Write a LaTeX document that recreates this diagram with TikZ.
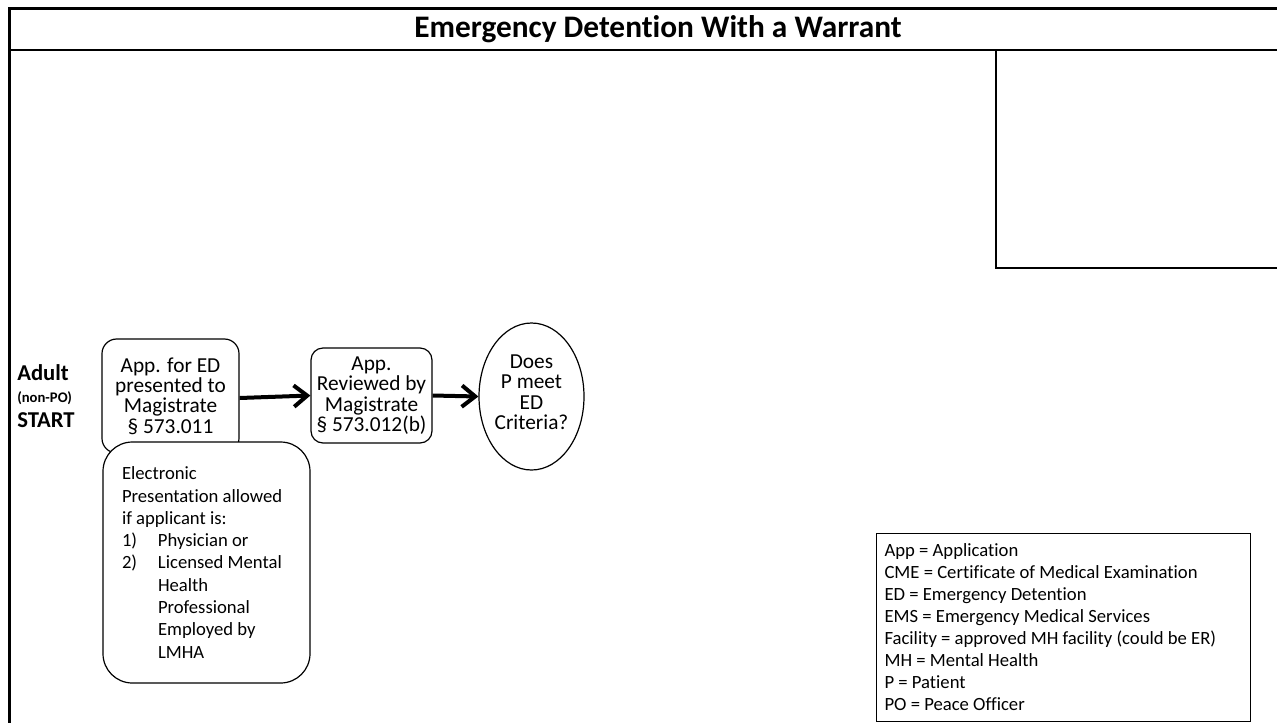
\documentclass[tikz,border=0pt]{standalone}
\usepackage{fontspec}
\setmainfont{Carlito}[Ligatures={NoCommon}]
\usetikzlibrary{arrows.meta,shapes.geometric}
\begin{document}
\begin{tikzpicture}[x=0.75pt,y=-0.75pt,
  box/.style={draw, line width=0.9pt, align=center, inner sep=0pt, fill=white,
    font=\fontsize{16}{15.3}\selectfont},
  startlbl/.style={anchor=base west, inner sep=0pt, font=\bfseries\fontsize{17}{19}\selectfont},
  arr/.style={line width=3pt, -{Straight Barb[length=10pt,width=16pt]}}
]
\useasboundingbox (0,0) rectangle (1277,722);
\fill[white] (0,0) rectangle (1277,722);

% frame
\draw[line width=2.4pt] (9.5,730) -- (9.5,8.5) -- (1290,8.5);
\draw[line width=1.1pt] (9.5,50) -- (1290,50);
\draw[line width=1.1pt] (996,50) -- (996,268) -- (1290,268);

% title
\node[font=\bfseries\fontsize{23.5}{28}\selectfont] (title) at (658,29) {Emergency Detention With a Warrant};

% start label
\node[startlbl] (adult) at (17,380) {Adult};
\node[startlbl, font=\bfseries\fontsize{11}{12}\selectfont] (nonpo) at (17,402.5) {(non-PO)};
\node[startlbl] (start) at (17,427) {START};

% boxes
\node[box, rounded corners=11pt, minimum width=102.75pt, minimum height=85.5pt] (b1) at (170.5,396)
  {App. for ED\\presented to\\Magistrate\\§ 573.011};
\node[box, rounded corners=22pt, minimum width=155.25pt, minimum height=180.75pt,
  text width=126.75pt, inner xsep=14.25pt, align=flush left,
  font=\fontsize{14}{16.7}\selectfont] (b3) at (206.5,562.5)
  {Electronic\\Presentation allowed\\if applicant is:\\
   \makebox[27pt][l]{1)}Physician or\\
   \makebox[27pt][l]{2)}Licensed Mental\\
   \hspace*{27pt}Health\\
   \hspace*{27pt}Professional\\
   \hspace*{27pt}Employed by\\
   \hspace*{27pt}LMHA};
\node[box, rounded corners=9pt, minimum width=90.75pt, minimum height=71.25pt] (b2) at (371.5,395.5)
  {App.\\Reviewed by\\Magistrate\\§ 573.012(b)};
\node[box, ellipse, minimum width=78.75pt, minimum height=110.25pt] (q) at (531.5,396.5)
  {Does\\P meet\\ED\\Criteria?\\[-9pt]\mbox{}};

% arrows
\draw[arr] ([yshift=-1.5pt]b1.east) -- (b2.west);
\draw[arr] (b2.east) -- (q.west);

% legend
\node[draw, line width=0.8pt, anchor=north west, text width=268.5pt, inner xsep=6pt, inner ysep=0pt,
  minimum height=141pt, align=flush left, font=\fontsize{14}{16.5}\selectfont] (legend) at (876,533)
  {App = Application\\
   CME = Certificate of Medical Examination\\
   ED = Emergency Detention\\
   EMS = Emergency Medical Services\\
   Facility = approved MH facility (could be ER)\\
   MH = Mental Health\\
   P = Patient\\
   PO = Peace Officer};
\end{tikzpicture}
\end{document}
